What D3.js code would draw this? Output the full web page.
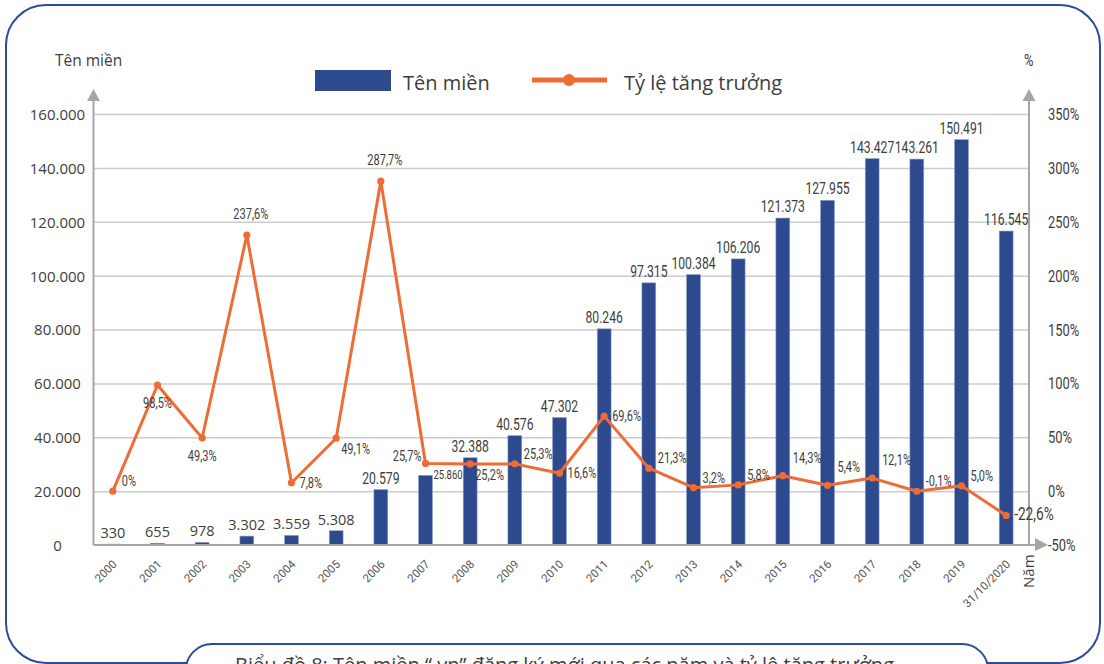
<!DOCTYPE html>
<html><head><meta charset="utf-8">
<script src="https://cdn.jsdelivr.net/npm/d3@7"></script>
<style>body{margin:0;background:#fff}svg{display:block}</style>
</head><body>
<svg id="c" width="1104" height="664"></svg>
<script>
// ---------- data ----------
const categories = ["2000","2001","2002","2003","2004","2005","2006","2007","2008","2009","2010",
  "2011","2012","2013","2014","2015","2016","2017","2018","2019","31/10/2020"];
const domainCounts = [330,655,978,3302,3559,5308,20579,25860,32388,40576,47302,
  80246,97315,100384,106206,121373,127955,143427,143261,150491,116545];
const growthRates = [0,98.5,49.3,237.6,7.8,49.1,287.7,25.7,25.2,25.3,16.6,
  69.6,21.3,3.2,5.8,14.3,5.4,12.1,-0.1,5.0,-22.6];
const leftTicks = [0,20000,40000,60000,80000,100000,120000,140000,160000];
const rightTicks = [-50,0,50,100,150,200,250,300,350];
// label placement hints (codes only)
const growthLabelPlace = ["RU","B","B","T","R","RD","T","LU","RD","RU","R",
  "R","RU","RU","RU","RUU","RUU","RUU","RU","RU","R"];
const barLabelPlace = ["T","T","T","T","T","T","T","R","T","T","T",
  "T","T","T","T","T","T","T","T","T","T"];

// ---------- setup ----------
const BLUE = "#2d4a8e", ORANGE = "#ee6c35", TXT = "#3d3d3d", AX = "#a6a6a6", GRID = "#cccccc", FRAME = "#2e4a9a";
const loc = d3.formatLocale({decimal:",", thousands:".", grouping:[3], currency:["",""], minus:"-"});
const fmtN = loc.format(",");
const fmtP = v => (v === 0 ? "0" : loc.format(".1f")(v)) + "%";
const svg = d3.select("#c");
const L = 93.5, R = 1029, T = 114, B = 545;
const xs = d3.scaleBand().domain(categories).range([90.5, 1028.5]).padding(0);
const yl = d3.scaleLinear().domain([0,160000]).range([B, T]);
const yr = d3.scaleLinear().domain([-50,350]).range([B, T]);
const cx = c => xs(c) + xs.bandwidth()/2;
const barW = xs.bandwidth()*0.31;
const SANS = "'Open Sans','Noto Sans',sans-serif";
const COND = "Roboto,'Noto Sans',sans-serif";
const SQ = 0.76;

function ctext(g, x, y, str, size, anchor, color){
  return g.append("text").attr("transform", `translate(${x},${y}) scale(${SQ},1)`)
    .attr("text-anchor", anchor||"start").style("font-family", COND)
    .style("font-size", size+"px").attr("fill", color||TXT).text(str);
}

// frame
svg.append("rect").attr("x",6).attr("y",5).attr("width",1094).attr("height",658)
  .attr("rx",40).attr("fill","none").attr("stroke",FRAME).attr("stroke-width",2);

// gridlines via axis
const gl = svg.append("g").attr("transform",`translate(${L},0)`)
  .call(d3.axisLeft(yl).tickValues(leftTicks.filter(d=>d>0)).tickSize(-(R-L+1)).tickFormat(""));
gl.select(".domain").remove();
gl.selectAll("line").attr("stroke",GRID).attr("stroke-width",1.5);

// left tick labels
const la = svg.append("g").attr("transform",`translate(${L},0)`)
  .call(d3.axisLeft(yl).tickValues(leftTicks).tickSize(0).tickFormat(fmtN));
la.select(".domain").remove();
la.selectAll("text").attr("x",-36).attr("text-anchor","middle").attr("dy","0.36em")
  .style("font-family",SANS).style("font-size","15px").attr("fill",TXT);

// right tick labels
const ra = svg.append("g");
rightTicks.forEach(v => ctext(ra, 1048, yr(v)+6, v+"%", 17, "start"));

// bars
svg.append("g").selectAll("rect").data(domainCounts).join("rect")
  .attr("x",(d,i)=>cx(categories[i])-barW/2).attr("width",barW)
  .attr("y",d=>yl(d)).attr("height",d=>yl(0)-yl(d))
  .attr("fill",BLUE).attr("stroke","#8f9fc6").attr("stroke-width",0.6);

// axes lines & arrows
const ax = svg.append("g");
ax.append("line").attr("x1",L).attr("x2",L).attr("y1",100).attr("y2",B).attr("stroke",AX).attr("stroke-width",2);
ax.append("line").attr("x1",R).attr("x2",R).attr("y1",100).attr("y2",B).attr("stroke",AX).attr("stroke-width",2);
ax.append("line").attr("x1",L).attr("x2",1036).attr("y1",B).attr("y2",B).attr("stroke",AX).attr("stroke-width",2);
ax.append("path").attr("d",`M${L-6.5},101L${L+6.5},101L${L},89Z`).attr("fill",AX);
ax.append("path").attr("d",`M${R-6.5},101L${R+6.5},101L${R},89Z`).attr("fill",AX);
ax.append("path").attr("d",`M1035,538L1035,551L1048,${B}Z`).attr("fill",AX);

// x axis labels
const xa = svg.append("g").attr("transform",`translate(0,${B})`)
  .call(d3.axisBottom(xs).tickSize(0));
xa.select(".domain").remove();
xa.selectAll("text").attr("x",0).attr("y",0).attr("dy","0.35em")
  .attr("transform","translate(2,17) rotate(-45)").attr("text-anchor","end")
  .style("font-family","Roboto,sans-serif").style("font-size","11.5px").attr("fill","#555");

// growth line
const line = d3.line().x((d,i)=>cx(categories[i])).y(d=>yr(d));
svg.append("path").datum(growthRates).attr("d",line).attr("fill","none")
  .attr("stroke",ORANGE).attr("stroke-width",3).attr("stroke-linejoin","round");
svg.append("g").selectAll("circle").data(growthRates).join("circle")
  .attr("cx",(d,i)=>cx(categories[i])).attr("cy",d=>yr(d)).attr("r",3.6).attr("fill",ORANGE);

// bar value labels
const bl = svg.append("g");
domainCounts.forEach((v,i)=>{
  const x = cx(categories[i]);
  if (barLabelPlace[i] === "R") {
    ctext(bl, x+barW/2+1, yl(v)+4, fmtN(v), 12.5, "start");
  } else if (i < 6) {
    bl.append("text").attr("x",x).attr("y",yl(v)-6).attr("text-anchor","middle")
      .style("font-family",SANS).style("font-size","14.5px").attr("fill",TXT).text(fmtN(v));
  } else {
    ctext(bl, x, yl(v)-6, fmtN(v), 16, "middle");
  }
});

// growth labels
const placeMap = {R:[8,5,"start"], RU:[9,-5,"start"], RUU:[10,-13,"start"], RD:[5,16,"start"],
  B:[0,23,"middle"], T:[4,-16,"middle"], LU:[-4,-2,"end"]};
const pl = svg.append("g");
growthRates.forEach((v,i)=>{
  const p = placeMap[growthLabelPlace[i]];
  const size = i === growthRates.length-1 ? 18 : 14.5;
  ctext(pl, cx(categories[i])+p[0], yr(v)+p[1], fmtP(v), size, p[2]);
});

// titles
svg.append("text").attr("x",55).attr("y",66).style("font-family",SANS).style("font-size","15.5px").attr("fill",TXT).text("Tên miền");
ctext(svg, 1024, 66, "%", 17, "start");
svg.append("text").attr("transform","translate(1034,588) rotate(-90)").style("font-family",SANS)
  .style("font-size","15px").attr("fill",TXT).text("Năm");

// legend
const lg = svg.append("g");
lg.append("rect").attr("x",315).attr("y",70).attr("width",76).attr("height",21).attr("fill",BLUE);
lg.append("text").attr("x",403).attr("y",90).style("font-family",SANS).style("font-size","20px").attr("fill",TXT).text("Tên miền");
lg.append("line").attr("x1",532).attr("x2",607).attr("y1",80).attr("y2",80).attr("stroke",ORANGE).attr("stroke-width",5);
lg.append("circle").attr("cx",569).attr("cy",80).attr("r",6).attr("fill",ORANGE);
lg.append("text").attr("x",624).attr("y",90).style("font-family",SANS).style("font-size","20px").attr("fill",TXT).text("Tỷ lệ tăng trưởng");

// caption box
svg.append("rect").attr("x",186).attr("y",644).attr("width",802).attr("height",60).attr("rx",26)
  .attr("fill","#fff").attr("stroke",FRAME).attr("stroke-width",2);
svg.append("text").attr("x",235).attr("y",672).style("font-family",SANS).style("font-size","20px").attr("fill",TXT)
  .text("Biểu đồ 8: Tên miền “.vn” đăng ký mới qua các năm và tỷ lệ tăng trưởng");
</script>
</body></html>
